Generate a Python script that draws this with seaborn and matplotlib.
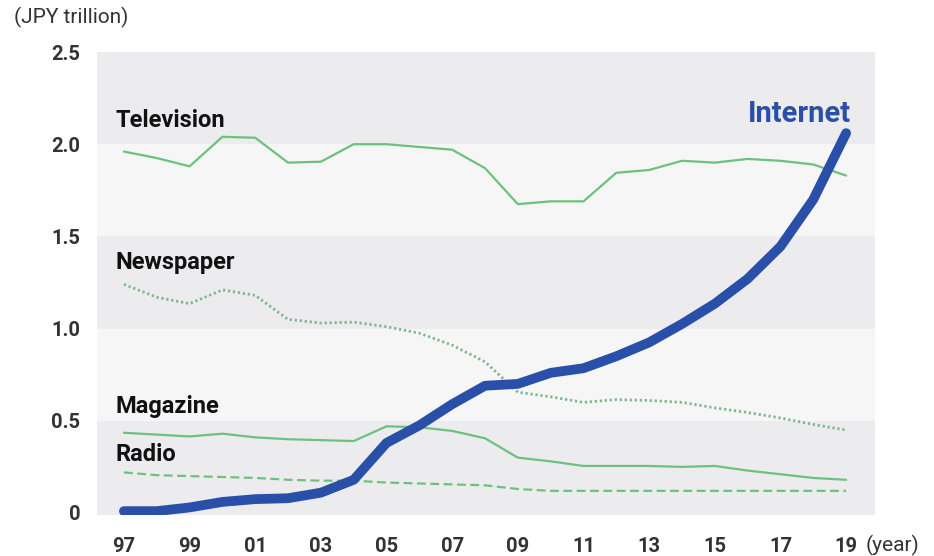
import matplotlib
matplotlib.use("Agg")
import matplotlib.pyplot as plt
import seaborn as sns
import pandas as pd

years = list(range(1997, 2020))
tick_years = list(range(1997, 2020, 2))
tick_labels = ["97", "99", "01", "03", "05", "07", "09", "11", "13", "15", "17", "19"]

television = [1.96, 1.925, 1.88, 2.04, 2.035, 1.90, 1.905, 2.00, 2.00, 1.985, 1.97, 1.87,
              1.675, 1.69, 1.69, 1.845, 1.86, 1.91, 1.90, 1.92, 1.91, 1.89, 1.83]
newspaper = [1.24, 1.17, 1.135, 1.21, 1.18, 1.05, 1.03, 1.035, 1.01, 0.975, 0.91, 0.82,
             0.655, 0.63, 0.60, 0.615, 0.61, 0.60, 0.57, 0.545, 0.515, 0.48, 0.45]
magazine = [0.435, 0.425, 0.415, 0.43, 0.41, 0.40, 0.395, 0.39, 0.47, 0.465, 0.445, 0.405,
            0.30, 0.28, 0.255, 0.255, 0.255, 0.25, 0.255, 0.23, 0.21, 0.19, 0.18]
radio = [0.22, 0.205, 0.20, 0.195, 0.19, 0.18, 0.175, 0.175, 0.165, 0.16, 0.155, 0.15,
         0.13, 0.12, 0.12, 0.12, 0.12, 0.12, 0.12, 0.12, 0.12, 0.12, 0.12]
internet = [0.01, 0.01, 0.03, 0.06, 0.075, 0.08, 0.11, 0.18, 0.38, 0.475, 0.59, 0.69,
            0.70, 0.76, 0.785, 0.85, 0.925, 1.025, 1.135, 1.27, 1.445, 1.70, 2.06]

sns.set_theme(style="white")
plt.rcParams['font.family'] = ['Roboto', 'DejaVu Sans']

fig = plt.figure(figsize=(9.34, 5.56), dpi=100)
ax = fig.add_axes([97 / 934, 41 / 556, (875 - 97) / 934, (515 - 52) / 556])

dark = "#ececee"
light = "#f6f6f7"
bands = [(-0.02, 0.5, dark), (0.5, 1.0, light), (1.0, 1.5, dark), (1.5, 2.0, light), (2.0, 2.5, dark)]
for lo, hi, c in bands:
    ax.axhspan(lo, hi, color=c, lw=0, zorder=0)

green = "#6cc27d"
navy = "#2a4fa8"
df = pd.DataFrame({"year": years, "tv": television, "np": newspaper, "mg": magazine,
                   "rd": radio, "in": internet})

sns.lineplot(data=df, x="year", y="tv", ax=ax, color=green, lw=1.6, zorder=3)
sns.lineplot(data=df, x="year", y="np", ax=ax, color="#7cb88a", lw=2.0, zorder=3,
             linestyle=(0, (0.8, 1.0)))
sns.lineplot(data=df, x="year", y="mg", ax=ax, color=green, lw=1.6, zorder=3)
sns.lineplot(data=df, x="year", y="rd", ax=ax, color=green, lw=1.6, zorder=3,
             linestyle=(0, (4, 2)))
sns.lineplot(data=df, x="year", y="in", ax=ax, color=navy, lw=7, zorder=4)
for l in ax.get_lines()[-1:]:
    l.set_solid_capstyle("round")

ax.set_xlim(1996.18, 2019.88)
ax.set_ylim(-0.011, 2.5)
ax.set_xticks(tick_years)
ax.set_xticklabels(tick_labels)
ax.set_yticks([0, 0.5, 1.0, 1.5, 2.0, 2.5])
ax.set_yticklabels(["0", "0.5", "1.0", "1.5", "2.0", "2.5"])
ax.tick_params(axis="both", length=0, labelsize=14.5, colors="#333333")
ax.tick_params(axis="x", pad=16)
ax.tick_params(axis="y", pad=12)
for t in ax.get_xticklabels() + ax.get_yticklabels():
    t.set_fontweight("bold")
ax.set_xlabel("")
ax.set_ylabel("")
for s in ax.spines.values():
    s.set_visible(False)

lab = dict(fontsize=17, fontweight="bold", color="#111111", va="center", ha="left")
ax.text(1996.73, 2.126, "Television", **lab)
ax.text(1996.73, 1.361, "Newspaper", **lab)
ax.text(1996.73, 0.575, "Magazine", **lab)
ax.text(1996.73, 0.315, "Radio", **lab)
ax.text(2019.15, 2.164, "Internet", fontsize=21, fontweight="bold", color=navy,
        va="center", ha="right")

fig.text(14 / 934, 1 - 17 / 556, "(JPY trillion)", fontsize=15, color="#333333",
         va="center", ha="left")
fig.text(866 / 934, 1 - 545 / 556, "(year)", fontsize=15, color="#333333",
         va="center", ha="left")

fig.savefig("out.png", dpi=100)
